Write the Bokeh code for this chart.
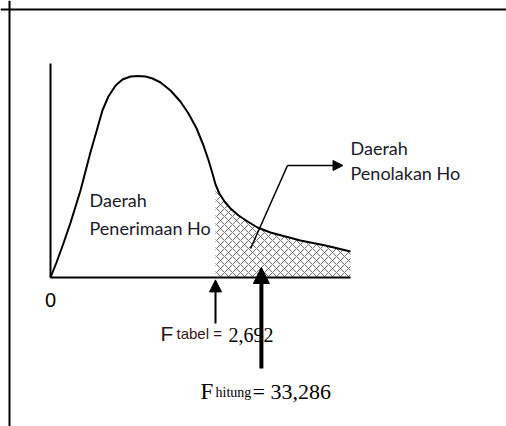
from bokeh.plotting import figure
from bokeh.models import Range1d, Span, Arrow, NormalHead, Label
from bokeh.embed import file_html
from bokeh.resources import INLINE

# Schematic F-distribution curve (x: horizontal units, y: relative density)
curve_x = [0.0, 0.2, 0.43, 0.67, 1.0, 1.33, 1.57, 1.73, 1.93, 2.17, 2.4, 2.67, 2.9,
           3.17, 3.4, 3.67, 4.0, 4.33, 4.6, 4.87, 5.1, 5.27, 5.4, 5.5, 5.63, 5.8,
           6.0, 6.27, 6.57, 6.9, 7.33, 7.83, 8.33, 9.17, 10.0]
curve_y = [0.0, 0.075, 0.17, 0.275, 0.435, 0.625, 0.75, 0.835, 0.905, 0.96, 0.99, 1.005, 1.0075,
           1.005, 0.995, 0.975, 0.935, 0.88, 0.82, 0.745, 0.66, 0.585, 0.52, 0.465, 0.42, 0.38,
           0.345, 0.31, 0.28, 0.25, 0.225, 0.205, 0.185, 0.16, 0.13]

f_tabel_pos = 5.5      # critical value position on the sketch
f_hitung_pos = 7.03    # computed F position on the sketch
axis_x_end = 10.0
axis_y_end = 1.07

W, H = 506, 426
x0 = -1.4 - 8.0 / 30
y1 = 1.345 + 8.0 / 200
p = figure(width=W, height=H, x_range=Range1d(x0, x0 + W / 30.0), y_range=Range1d(y1 - H / 200.0, y1),
           output_backend="svg", toolbar_location=None, min_border=0)
p.axis.visible = False
p.grid.visible = False
p.outline_line_color = None
p.background_fill_color = "white"
p.border_fill_color = "white"

# frame (top and left edges)
p.add_layout(Span(location=1.345 - 1.0 / 200, dimension="width", line_color="black", line_width=2))
p.add_layout(Span(location=-1.4 + 1.0 / 30, dimension="height", line_color="black", line_width=2))

# rejection region hatch
tail_x = [x for x in curve_x if x >= f_tabel_pos]
tail_y = [y for x, y in zip(curve_x, curve_y) if x >= f_tabel_pos]
p.varea(x=tail_x, y1=[0] * len(tail_x), y2=tail_y, fill_alpha=0,
        hatch_pattern="diagonal_cross", hatch_color="#6e6e6e", hatch_scale=8, hatch_weight=1)

# axes
p.line(x=[0, 0], y=[0, axis_y_end], line_color="black", line_width=2)
p.line(x=[0, axis_x_end], y=[0, 0], line_color="black", line_width=2)

# curve
p.line(x=curve_x, y=curve_y, line_color="black", line_width=2, line_join="round")

# pointer to rejection region
p.line(x=[6.67, 7.9], y=[0.145, 0.56], line_color="black", line_width=1.5)
p.add_layout(Arrow(x_start=7.9, y_start=0.56, x_end=9.75, y_end=0.56, line_width=1.5,
                   end=NormalHead(size=10, fill_color="black", line_color="black")))

# F tabel arrow (thin) and F hitung arrow (thick)
p.add_layout(Arrow(x_start=f_tabel_pos, y_start=-0.23, x_end=f_tabel_pos, y_end=-0.012, line_width=2,
                   end=NormalHead(size=12, fill_color="black", line_color="black")))
p.add_layout(Arrow(x_start=f_hitung_pos, y_start=-0.455, x_end=f_hitung_pos, y_end=0.05, line_width=4,
                   end=NormalHead(size=16, fill_color="black", line_color="black")))

def lab(x, y, t, font, size, align="left", baseline="alphabetic", color="black"):
    p.add_layout(Label(x=x, y=y, text=t, text_font=font, text_font_size=f"{size}px",
                       text_align=align, text_baseline=baseline, text_color=color))

lab(0.0, -0.11, "0", "Liberation Sans", 20, align="center", baseline="middle")
lab(1.3, 0.39, "Daerah", "Lato", 18, baseline="middle", color="#1a1a2a")
lab(1.3, 0.25, "Penerimaan Ho", "Lato", 18, baseline="middle", color="#1a1a2a")
lab(10.0, 0.65, "Daerah", "Lato", 18, baseline="middle", color="#1a1a2a")
lab(10.0, 0.525, "Penolakan Ho", "Lato", 18, baseline="middle", color="#1a1a2a")

lab(3.667, -0.28, "F", "Liberation Sans", 21, color="#2a1414")
lab(4.2, -0.28, "tabel =", "Liberation Sans", 15, color="#3a1414")
lab(5.933, -0.285, "2,692", "Liberation Serif", 20)

lab(5.0, -0.57, "F", "Liberation Serif", 23)
lab(5.5, -0.575, "hitung", "Liberation Serif", 14)
lab(6.733, -0.57, "= 33,286", "Liberation Serif", 22)

open("out.html", "w").write(file_html(p, INLINE))
